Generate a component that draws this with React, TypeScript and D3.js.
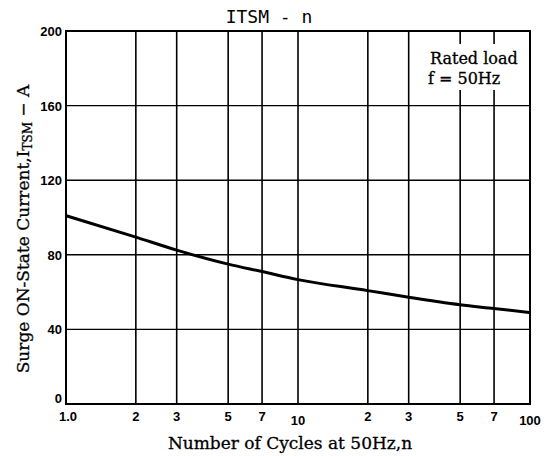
import React from "react";
import * as d3 from "d3";

const cycles = [1, 2, 3, 5, 7, 10, 20, 30, 50, 70, 100];
const current = [101, 89.5, 82.5, 75, 71, 66.7, 60.8, 57.2, 53.2, 51.2, 49];
const xTicks = [1, 2, 3, 5, 7, 10, 20, 30, 50, 70, 100];
const xTickLabels = ["1.0", "2", "3", "5", "7", "10", "2", "3", "5", "7", "100"];
const yTicks = [0, 40, 80, 120, 160, 200];

const W = 546, H = 456;
const L = 66, R = 530, T = 31, B = 404;

export default function App() {
  const x = d3.scaleLog().domain([1, 100]).range([L, R]);
  const y = d3.scaleLinear().domain([0, 200]).range([B, T]);
  const line = d3
    .line<number>()
    .x((_, i) => x(cycles[i]))
    .y((d) => y(d))
    .curve(d3.curveMonotoneX);
  const tickFont = "'Liberation Sans', Arial, sans-serif";
  const serif = "'DejaVu Serif', serif";
  return (
    <div style={{ position: "absolute", left: 0, top: 0 }}>
      <svg width={W} height={H} style={{ display: "block", background: "#fff" }}>
        <rect x={0} y={0} width={W} height={H} fill="#fff" />
        {/* grid */}
        {xTicks.slice(1, -1).map((t) => (
          <line key={"gx" + t} x1={x(t)} x2={x(t)} y1={T} y2={B} stroke="#000" strokeWidth={1.6} />
        ))}
        {yTicks.slice(1, -1).map((t) => (
          <line key={"gy" + t} x1={L} x2={R} y1={y(t)} y2={y(t)} stroke="#000" strokeWidth={1.4} />
        ))}
        {/* legend box */}
        <rect x={422} y={44} width={106} height={46} fill="#fff" />
        <text x={430} y={64} fontFamily={serif} fontSize={16} fill="#000" stroke="#000" strokeWidth={0.3}>Rated load</text>
        <text x={428} y={84} fontFamily={serif} fontSize={16} fill="#000" stroke="#000" strokeWidth={0.3}>f = 50Hz</text>
        {/* curve */}
        <path d={line(current) || ""} fill="none" stroke="#000" strokeWidth={3} />
        {/* border */}
        <rect x={L} y={T} width={R - L} height={B - T} fill="none" stroke="#000" strokeWidth={2} />
        {/* y ticks */}
        {yTicks.map((t) => (
          <text key={"yl" + t} x={L - 4} y={t === 0 ? y(t) - 1 : y(t) + 5} textAnchor="end" fontFamily={tickFont} fontWeight="bold" fontSize={13} fill="#000">
            {t}
          </text>
        ))}
        {/* x ticks */}
        {xTicks.map((t, i) => {
          const low = t === 10 || t === 100;
          return (
            <text key={"xl" + i} x={x(t) + (i === 0 ? 2 : 0)} y={low ? 425 : 421} textAnchor="middle" fontFamily={tickFont} fontWeight="bold" fontSize={13} fill="#000">
              {xTickLabels[i]}
            </text>
          );
        })}
        {/* title */}
        <text x={269} y={23} textAnchor="middle" fontFamily="'DejaVu Sans Mono', monospace" fontSize={18} fill="#000">
          ITSM - n
        </text>
        {/* x axis title */}
        <text x={290} y={449} textAnchor="middle" fontFamily={serif} fontSize={17} fill="#000" stroke="#000" strokeWidth={0.3}>
          Number of Cycles at 50Hz,n
        </text>
        {/* y axis title */}
        <text transform={`translate(29,229) rotate(-90)`} textAnchor="middle" fontFamily={serif} fontSize={17} fill="#000" stroke="#000" strokeWidth={0.3}>
          Surge ON-State Current,I<tspan fontSize={12} dy={3}>TSM</tspan><tspan dy={-3}> − A</tspan>
        </text>
      </svg>
    </div>
  );
}
